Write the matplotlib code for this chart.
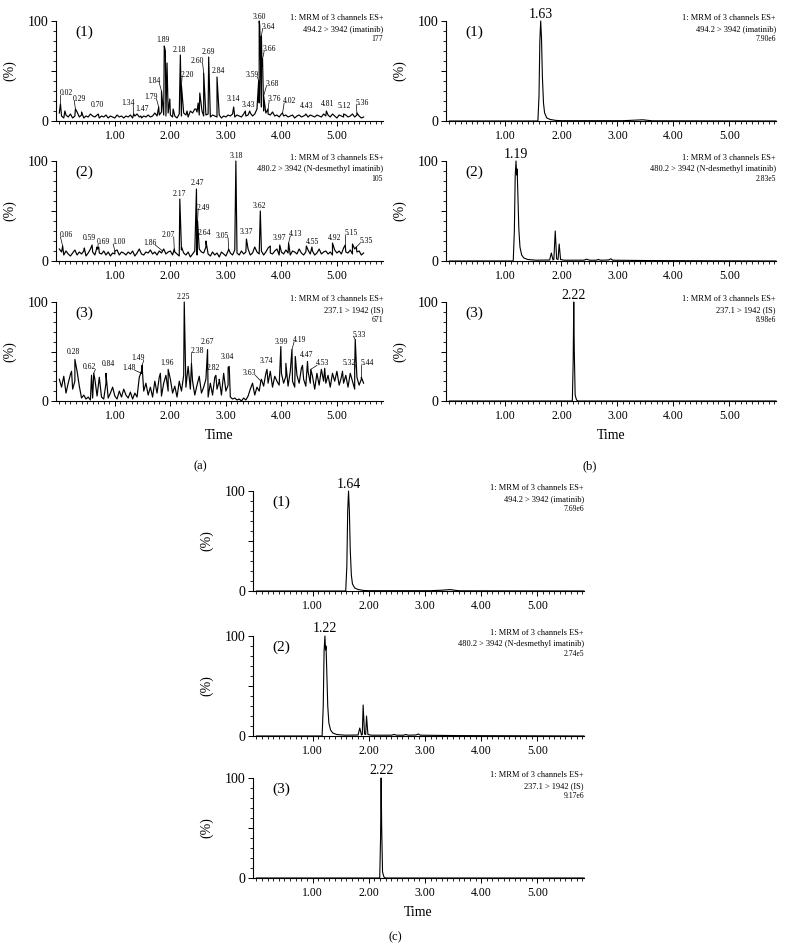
import numpy as np
import matplotlib
matplotlib.use('Agg')
import matplotlib.pyplot as plt
from matplotlib.ticker import MultipleLocator

plt.rcParams['font.family'] = ['Liberation Serif', 'DejaVu Serif']

# ---------------- data: panel (a) blank plasma, noisy traces ----------------
# baseline noise sampled every 0.04 min from 0.00 (values in %)
a1_noise = [8, 5, 3, 6, 4, 7, 3, 5, 9, 4,
            6, 3, 5, 4, 7, 5, 4, 6, 3, 5,
            4, 6, 3, 5, 4, 3, 6, 4, 5, 3,
            5, 4, 6, 3, 5, 7, 4, 3, 5, 4,
            6, 4, 5, 8, 5, 6, 9, 6, 5, 8,
            6, 4, 5, 3, 7, 5, 8, 6, 4, 10,
            8, 12, 9, 6, 14, 5, 6, 7, 4, 6,
            5, 4, 6, 3, 5, 4, 6, 5, 7, 4,
            6, 5, 4, 7, 5, 6, 8, 5, 7, 12,
            18, 14, 10, 8, 7, 6, 9, 5, 6, 4,
            7, 5, 6, 4, 5, 6, 3, 5, 6, 4,
            5, 7, 4, 6, 5, 4, 6, 5, 4, 7,
            5, 6, 4, 7, 5, 3, 6, 5, 4, 6,
            4, 5, 7, 4, 6, 5, 3, 4]
a2_noise = [12, 9, 6, 10, 7, 5, 8, 11, 6, 9,
            7, 10, 5, 8, 12, 9, 6, 14, 8, 7,
            10, 6, 9, 5, 8, 7, 11, 6, 9, 8,
            6, 9, 7, 10, 5, 8, 12, 7, 6, 9,
            8, 11, 7, 9, 6, 10, 8, 12, 7, 9,
            10, 6, 9, 7, 5, 11, 8, 6, 9, 4,
            7, 10, 6, 12, 9, 8, 14, 7, 5, 9,
            6, 8, 4, 9, 7, 5, 10, 8, 6, 11,
            8, 6, 10, 7, 9, 12, 6, 8, 14, 9,
            7, 10, 6, 9, 13, 8, 7, 10, 12, 6,
            9, 7, 11, 8, 6, 10, 9, 7, 12, 8,
            6, 9, 11, 7, 10, 6, 8, 12, 7, 9,
            10, 7, 9, 6, 11, 8, 10, 7, 13, 9,
            8, 11, 7, 12, 9, 10, 6, 8]
a3_noise = [22, 14, 25, 8, 18, 27, 12, 20, 30, 15,
            3, 6, 2, 4, 1, 3, 22, 5, 24, 4,
            2, 18, 3, 8, 14, 5, 2, 10, 4, 12,
            6, 3, 9, 2, 8, 4, 24, 30, 10, 18,
            6, 14, 4, 20, 8, 24, 5, 18, 26, 10,
            22, 8, 15, 4, 20, 10, 26, 14, 35, 12,
            20, 6, 16, 25, 8, 14, 22, 4, 18, 6,
            24, 12, 20, 6, 28, 10, 16, 4, 2, 3,
            1, 2, 0, 3, 1, 5, 12, 18, 6, 14,
            10, 22, 15, 28, 18, 30, 14, 25, 20, 16,
            28, 18, 25, 15, 30, 20, 14, 26, 18, 33,
            22, 15, 30, 18, 25, 12, 28, 16, 32, 20,
            18, 26, 14, 28, 20, 30, 16, 24, 18, 26,
            14, 28, 20, 12, 24, 16, 22, 18]

# labelled peaks (retention time, height %)
a1_peak_t = [0.02, 0.29, 0.70, 1.34, 1.47, 1.79, 1.84, 1.89, 2.18, 2.20, 2.60, 2.69, 2.84,
             3.14, 3.43, 3.59, 3.60, 3.64, 3.66, 3.68, 3.76, 4.02, 4.43, 4.81, 5.12, 5.36]
a1_peak_h = [17, 12, 7, 7, 5, 14, 30, 75, 66, 35, 48, 64, 44,
             14, 10, 40, 100, 85, 62, 25, 12, 8, 6, 10, 7, 8]
a1_extra_t = [0.10, 0.40, 1.91, 1.94, 1.99, 2.05, 2.30, 2.46, 2.50, 2.53, 2.57, 3.35, 3.61, 3.62, 3.65]
a1_extra_h = [10, 9, 70, 58, 22, 12, 10, 12, 18, 28, 10, 10, 95, 70, 55]

a2_peak_t = [0.06, 0.59, 0.69, 1.00, 1.86, 2.07, 2.17, 2.47, 2.49, 2.64, 3.05, 3.18, 3.37,
             3.62, 3.97, 4.13, 4.55, 4.92, 5.15, 5.35]
a2_peak_h = [15, 16, 12, 10, 10, 12, 62, 72, 40, 20, 12, 100, 22,
             50, 16, 18, 14, 18, 16, 14]
a2_extra_t = [0.45, 0.71, 2.20, 3.80, 4.45, 5.28]
a2_extra_h = [13, 14, 14, 15, 15, 17]

a3_peak_t = [0.28, 0.62, 0.84, 1.48, 1.49, 1.96, 2.25, 2.38, 2.67, 2.82, 3.04, 3.63, 3.74,
             3.99, 4.19, 4.47, 4.53, 5.32, 5.33, 5.44]
a3_peak_h = [42, 28, 28, 28, 36, 32, 100, 38, 52, 26, 34, 20, 32,
             55, 52, 40, 32, 32, 62, 24]
a3_extra_t = [0.22, 0.58, 1.82, 2.88, 3.06, 4.08, 4.25, 4.38, 4.78, 5.10]
a3_extra_h = [30, 26, 28, 22, 35, 38, 45, 36, 33, 30]

# ---------------- data: panels (b) and (c), smooth traces ----------------
b1_t = [0, 1.58, 1.60, 1.615, 1.63, 1.645, 1.66, 1.68, 1.70, 1.74, 1.80, 1.90, 2.00, 3.10, 3.30, 3.45, 3.55, 3.62, 5.83]
b1_v = [0, 0, 25, 80, 100, 82, 45, 18, 8, 3, 1.5, 0.6, 0.3, 0.3, 0.8, 1.2, 0.6, 0.2, 0]
b2_t = [0, 1.14, 1.16, 1.175, 1.19, 1.20, 1.21, 1.225, 1.24, 1.26, 1.29, 1.33, 1.40, 1.55, 1.79, 1.82,
        1.85, 1.865, 1.89, 1.915, 1.94, 1.96, 1.985, 2.05, 2.40, 2.45, 2.50, 2.62, 2.66, 2.70, 2.84,
        2.88, 2.92, 3.60, 5.83]
b2_v = [0, 0, 30, 85, 100, 86, 92, 62, 32, 14, 6, 3, 1.5, 0.8, 1, 8,
        1, 1.5, 30, 2, 1.5, 17, 1.5, 0.8, 0.8, 1.8, 0.8, 0.8, 1.5, 0.8, 1,
        2.2, 0.8, 0.4, 0]
b3_t = [0, 2.195, 2.21, 2.22, 2.23, 2.245, 2.27, 2.30, 5.83]
b3_v = [0, 0, 40, 100, 50, 6, 1, 0, 0]

c1_t = [0, 1.59, 1.61, 1.625, 1.64, 1.655, 1.67, 1.69, 1.71, 1.75, 1.81, 1.90, 2.00, 3.10, 3.30, 3.45, 3.55, 3.62, 5.83]
c1_v = [0, 0, 25, 80, 100, 80, 42, 16, 7, 3, 1.5, 0.6, 0.3, 0.3, 0.8, 1.4, 0.6, 0.2, 0]
c2_t = [0, 1.17, 1.19, 1.205, 1.22, 1.23, 1.24, 1.255, 1.27, 1.29, 1.32, 1.36, 1.43, 1.58, 1.81, 1.84,
        1.87, 1.885, 1.90, 1.925, 1.945, 1.96, 1.985, 2.05, 2.40, 2.45, 2.50, 2.62, 2.66, 2.70, 2.84,
        2.88, 2.92, 3.60, 5.83]
c2_v = [0, 0, 30, 85, 100, 86, 90, 60, 30, 13, 6, 3, 1.5, 0.8, 1, 8,
        1, 1.5, 31, 2, 1.5, 20, 1.5, 0.8, 0.8, 1.5, 0.8, 0.8, 1.5, 0.8, 1,
        2.0, 0.8, 0.4, 0]
c3_t = [0, 2.195, 2.21, 2.22, 2.23, 2.245, 2.27, 2.30, 5.83]
c3_v = [0, 0, 40, 100, 50, 6, 1, 0, 0]

channels = ['494.2 > 3942 (imatinib)', '480.2 > 3942 (N-desmethyl imatinib)', '237.1 > 1942 (IS)']
scales_a = ['177', '105', '671']
scales_b = ['7.90e6', '2.83e5', '8.98e6']
scales_c = ['7.69e6', '2.74e5', '9.17e6']
apex_b = ['1.63', '1.19', '2.22']
apex_c = ['1.64', '1.22', '2.22']
tick_vals = [1, 2, 3, 4, 5]
tick_labels = ['1.00', '2.00', '3.00', '4.00', '5.00']

# ---------------- layout: label positions (bottom-centre of each peak label) ----------------
a1_label_xy = [(0.12, 24), (0.37, 18), (0.68, 12), (1.23, 14), (1.49, 8), (1.65, 20), (1.70, 36),
               (1.87, 77), (2.17, 67), (2.31, 42), (2.48, 56), (2.68, 65), (2.87, 46),
               (3.14, 18), (3.41, 12), (3.47, 42), (3.61, 100), (3.76, 90), (3.79, 68), (3.83, 33),
               (3.88, 18), (4.15, 16), (4.46, 11), (4.84, 13), (5.14, 11), (5.45, 14)]
a2_label_xy = [(0.12, 22), (0.55, 19), (0.80, 15), (1.07, 15), (1.63, 14), (1.96, 22), (2.17, 63),
               (2.48, 74), (2.60, 49), (2.62, 24), (2.94, 21), (3.18, 101), (3.37, 25),
               (3.60, 51), (3.97, 19), (4.26, 23), (4.56, 15), (4.96, 19), (5.25, 24), (5.52, 16)]
a3_label_xy = [(0.26, 45), (0.55, 30), (0.88, 33), (1.26, 29), (1.42, 39), (1.94, 34), (2.23, 101),
               (2.48, 46), (2.66, 56), (2.77, 29), (3.02, 40), (3.43, 24), (3.73, 36),
               (4.00, 56), (4.33, 58), (4.45, 42), (4.74, 34), (5.23, 34), (5.40, 63), (5.54, 34)]


def rect(left, right, top, bottom):
    return [left / 787, 1 - bottom / 952, (right - left) / 787, (bottom - top) / 952]


def style_axes(ax, num, channel, scale, xlabel=False):
    ax.set_xlim(-0.06, 5.83)
    ax.set_ylim(0, 100)
    for s in ['top', 'right']:
        ax.spines[s].set_visible(False)
    for s in ['left', 'bottom']:
        ax.spines[s].set_linewidth(0.8)
    ax.set_xticks(tick_vals)
    ax.set_xticklabels(tick_labels, fontsize=8.5)
    ax.xaxis.set_minor_locator(MultipleLocator(0.1))
    ax.set_yticks([0, 50, 100])
    ax.set_yticklabels(['0', '', '100'], fontsize=10)
    ax.yaxis.set_minor_locator(MultipleLocator(10))
    ax.tick_params(which='major', length=3.5, width=0.7, pad=2)
    ax.tick_params(which='minor', length=2, width=0.6)
    ax.tick_params(axis='x', which='major', pad=3)
    ax.set_ylabel('(%)', fontsize=10)
    ax.yaxis.set_label_coords(-0.12, 0.5)
    ax.text(0.06, 0.89, f'({num})', transform=ax.transAxes, fontsize=11, ha='left', va='center')
    ax.text(1.0, 1.03, '1: MRM of 3 channels ES+', transform=ax.transAxes,
            fontsize=6, ha='right', va='center')
    ax.text(1.0, 0.92, channel, transform=ax.transAxes, fontsize=6, ha='right', va='center')
    ax.text(1.0, 0.82, scale, transform=ax.transAxes, fontsize=5.5, ha='right', va='center')
    if xlabel:
        ax.set_xlabel('Time', fontsize=10, labelpad=5)


def noisy_trace(ax, noise, pk_t, pk_h, ex_t, ex_h, label_xy):
    grid = np.linspace(0, 0.04 * (len(noise) - 1), len(noise))
    t = np.concatenate([grid, pk_t, ex_t])
    v = np.concatenate([noise, pk_h, ex_h])
    order = np.argsort(t, kind='stable')
    ax.plot(t[order], v[order], color='black', lw=0.85, clip_on=False)
    for pt, ph, (lx, ly) in zip(pk_t, pk_h, label_xy):
        ax.text(lx, ly, f'{pt:.2f}', fontsize=5.5, ha='center', va='bottom')
        if abs(lx - pt) > 0.05:
            side = np.sign(lx - pt)
            ax.plot([pt, lx - side * 0.1], [ph, ly + 2], color='black', lw=0.5)


def smooth_trace(ax, t, v, apex_label):
    ax.plot(t, v, color='black', lw=0.8, clip_on=False)
    i = int(np.argmax(v))
    ax.text(t[i], 100.5, apex_label, fontsize=10, ha='center', va='bottom')


fig = plt.figure(figsize=(7.87, 9.52), dpi=100)

rows_ab = [(21, 121), (161, 261), (302, 401)]
rows_c = [(491, 591), (636, 736), (778, 878)]

a_data = [(a1_noise, a1_peak_t, a1_peak_h, a1_extra_t, a1_extra_h, a1_label_xy),
          (a2_noise, a2_peak_t, a2_peak_h, a2_extra_t, a2_extra_h, a2_label_xy),
          (a3_noise, a3_peak_t, a3_peak_h, a3_extra_t, a3_extra_h, a3_label_xy)]
b_data = [(b1_t, b1_v), (b2_t, b2_v), (b3_t, b3_v)]
c_data = [(c1_t, c1_v), (c2_t, c2_v), (c3_t, c3_v)]

for k in range(3):
    top, bottom = rows_ab[k]
    ax = fig.add_axes(rect(56, 383, top, bottom))
    noisy_trace(ax, *a_data[k])
    style_axes(ax, k + 1, channels[k], scales_a[k], xlabel=(k == 2))

    ax = fig.add_axes(rect(446, 776, top, bottom))
    smooth_trace(ax, b_data[k][0], b_data[k][1], apex_b[k])
    style_axes(ax, k + 1, channels[k], scales_b[k], xlabel=(k == 2))

    top, bottom = rows_c[k]
    ax = fig.add_axes(rect(253, 584, top, bottom))
    smooth_trace(ax, c_data[k][0], c_data[k][1], apex_c[k])
    style_axes(ax, k + 1, channels[k], scales_c[k], xlabel=(k == 2))

fig.text(200 / 787, 1 - 466 / 952, '(a)', fontsize=9, ha='center', va='center')
fig.text(590 / 787, 1 - 466 / 952, '(b)', fontsize=9, ha='center', va='center')
fig.text(395 / 787, 1 - 937 / 952, '(c)', fontsize=9, ha='center', va='center')

fig.savefig('out.png', dpi=100)
